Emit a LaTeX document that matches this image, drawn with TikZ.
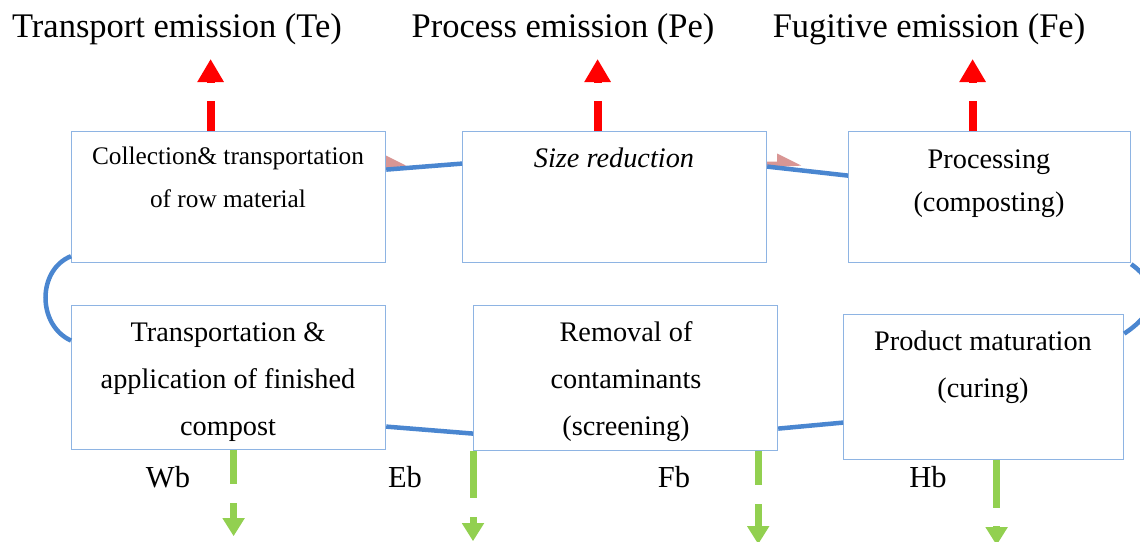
\documentclass[tikz,border=0pt]{standalone}
\usepackage{fontspec}
\setmainfont{Liberation Serif}
\usetikzlibrary{arrows.meta,calc}

\definecolor{boxline}{RGB}{142,180,227}
\definecolor{flow}{RGB}{74,134,208}
\definecolor{pinkhead}{RGB}{217,150,148}
\definecolor{emitred}{RGB}{255,0,0}
\definecolor{lossgreen}{RGB}{146,208,80}

\begin{document}
\begin{tikzpicture}[x=1pt,y=-1pt,
  stage/.style={draw=boxline,line width=1.2pt,fill=white,rectangle,anchor=north west,inner sep=0pt},
  boxtext/.style={anchor=base,inner sep=0pt,font=\fontsize{28.3}{34}\selectfont},
  smalltext/.style={anchor=base,inner sep=0pt,font=\fontsize{25.3}{30}\selectfont},
  headline/.style={anchor=base,inner sep=0pt,font=\fontsize{34.5}{40}\selectfont},
  losslabel/.style={anchor=base,inner sep=0pt,font=\fontsize{30.5}{36}\selectfont},
  flowline/.style={draw=flow,line width=4.5pt},
  emitstem/.style={draw=emitred,line width=8pt},
  emithead/.style={draw=emitred,line width=8pt,-{Triangle[length=23pt,width=25pt]}},
  lossstem/.style={draw=lossgreen,line width=7pt},
  losshead/.style={draw=lossgreen,line width=7pt,-{Triangle[length=18pt,width=21pt]}},
]
\useasboundingbox (0,0) rectangle (1140,541);
\fill[white] (0,0) rectangle (1140,541);

% process stages
\node[stage,minimum width=314pt,minimum height=131pt] (collect) at (71,131) {};
\node[stage,minimum width=304pt,minimum height=131pt] (size)    at (462,131) {};
\node[stage,minimum width=282pt,minimum height=131pt] (process) at (848,131) {};
\node[stage,minimum width=314pt,minimum height=144pt] (apply)   at (71,305) {};
\node[stage,minimum width=304pt,minimum height=145pt] (screen)  at (473,305) {};
\node[stage,minimum width=280pt,minimum height=145pt] (mature)  at (843,314) {};

% stage texts
\node[smalltext] (t1a) at (228,164) {Collection\& transportation};
\node[smalltext] (t1b) at (228,207) {of row material};
\node[boxtext]   (t2a) at (614,167) {\itshape Size reduction};
\node[boxtext]   (t3a) at (989,168) {Processing};
\node[boxtext]   (t3b) at (989,211) {(composting)};
\node[boxtext]   (t4a) at (228,341) {Transportation \&};
\node[boxtext]   (t4b) at (228,388) {application of finished};
\node[boxtext]   (t4c) at (228,435) {compost};
\node[boxtext]   (t5a) at (626,341) {Removal of};
\node[boxtext]   (t5b) at (626,388) {contaminants};
\node[boxtext]   (t5c) at (626,435) {(screening)};
\node[boxtext]   (t6a) at (983,350) {Product maturation};
\node[boxtext]   (t6b) at (983,397) {(curing)};

% emission headings
\node[headline] (te) at (177,37) {Transport emission (Te)};
\node[headline] (pe) at (563,37) {Process emission (Pe)};
\node[headline] (fe) at (929,37) {Fugitive emission (Fe)};

% by-product labels
\node[losslabel] (wb) at (168,487) {Wb};
\node[losslabel] (eb) at (405,487) {Eb};
\node[losslabel] (fb) at (674,487) {Fb};
\node[losslabel] (hb) at (928,487) {Hb};

% pink arrow heads of the upper flow
\fill[pinkhead] ($(collect.east)+(0,-41.5)$) -- ($(collect.east)+(20,-31.5)$) -- ($(collect.east)+(0,-28.5)$) -- cycle;
\fill[pinkhead] ($(size.east)+(0,-35.5)$) -- ($(size.east)+(10,-35.5)$) -- ($(size.east)+(10,-43.5)$)
  -- ($(size.east)+(34,-31.5)$) -- ($(size.east)+(0,-29.5)$) -- cycle;

% flow connectors
\draw[flowline] ($(collect.east)+(0,-27.5)$) -- ($(size.west)+(0,-33.5)$);
\draw[flowline] ($(size.east)+(0,-30.5)$) -- ($(process.west)+(0,-21.5)$);
\draw[flowline] ($(process.south east)+(0,1)$) .. controls (1160,285) and (1160,310) .. ($(mature.east)+(0,-53.5)$);
\draw[flowline] ($(screen.east)+(0,50.5)$) -- ($(mature.west)+(0,35.5)$);
\draw[flowline] ($(apply.east)+(0,49)$) -- ($(screen.west)+(0,55.5)$);
\draw[flowline] ($(collect.south west)+(0,-7)$) .. controls (37,270) and (37,325) .. ($(apply.west)+(0,-37)$);

% emissions (red, upwards)
\foreach \src/\dx in {collect/-18, size/-17, process/-17}{
  \draw[emitstem] ($(\src.north)+(\dx,0)$) -- ++(0,-30);
  \draw[emithead] ($(\src.north)+(\dx,-48.5)$) -- ++(0,-23.5);
}

% by-products (green, downwards)
\draw[lossstem] ($(apply.south)+(5,0)$) -- ++(0,34);
\draw[losshead] ($(apply.south)+(5,53)$) -- ++(0,33);
\draw[lossstem] (screen.south west) -- ++(0,47);
\draw[losshead] ($(screen.south west)+(0,66)$) -- ++(0,24);
\draw[lossstem] ($(screen.south east)+(-20,0)$) -- ++(0,34);
\draw[losshead] ($(screen.south east)+(-20,53)$) -- ++(0,40);
\draw[lossstem] ($(mature.south)+(13,0)$) -- ++(0,48);
\draw[losshead] ($(mature.south)+(13,66)$) -- ++(0,19);
\end{tikzpicture}
\end{document}
